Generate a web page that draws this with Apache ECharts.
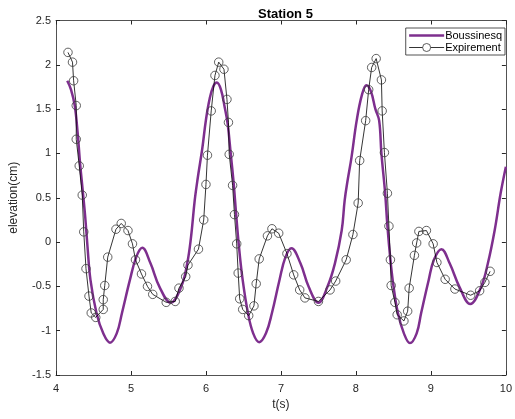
<!DOCTYPE html>
<html>
<head>
<meta charset="utf-8">
<script src="https://cdn.jsdelivr.net/npm/echarts@6/dist/echarts.min.js"></script>
<style>
  html, body { margin: 0; padding: 0; background: #fff; }
  #main { width: 515px; height: 419px; }
</style>
</head>
<body>
<div id="main"></div>
<script>
// Boussinesq model
var bousT = [4.15, 4.20, 4.25, 4.29, 4.32, 4.36, 4.39, 4.42, 4.46, 4.54, 4.63, 4.72, 4.81, 4.88, 4.985, 5.07, 5.15, 5.26, 5.38, 5.53,
  5.67, 5.75, 5.80, 5.85, 5.89, 5.95, 6.00, 6.05, 6.10, 6.145, 6.20, 6.25, 6.29, 6.33, 6.37, 6.40, 6.44, 6.49, 6.56, 6.63, 6.71,
  6.80, 6.88, 6.98, 7.06, 7.14, 7.26, 7.37, 7.50, 7.62, 7.72, 7.81, 7.85, 7.89, 7.94, 8.01, 8.08, 8.14, 8.20, 8.26, 8.31, 8.34,
  8.39, 8.42, 8.46, 8.50, 8.56, 8.64, 8.72, 8.81, 8.87, 8.97, 9.04, 9.14, 9.25, 9.38, 9.525, 9.67, 9.76, 9.85, 9.93, 10.0];
var bousY = [1.82, 1.72, 1.54, 1.22, 0.90, 0.55, 0.28, -0.05, -0.43, -0.80, -1.03, -1.135, -1.03, -0.80, -0.43, -0.17, -0.065, -0.24, -0.505, -0.685,
  -0.505, -0.24, 0.05, 0.47, 0.72, 1.05, 1.38, 1.62, 1.76, 1.80, 1.72, 1.52, 1.33, 1.00, 0.66, 0.34, -0.05, -0.43, -0.80, -1.03, -1.13,
  -1.03, -0.80, -0.43, -0.17, -0.07, -0.24, -0.505, -0.685, -0.505, -0.24, 0.13, 0.47, 0.70, 0.95, 1.37, 1.66, 1.77, 1.70, 1.50, 1.37, 1.00,
  0.55, 0.18, -0.20, -0.49, -0.80, -1.03, -1.14, -1.03, -0.80, -0.43, -0.20, -0.08, -0.24, -0.505, -0.70, -0.505, -0.24, 0.13, 0.55, 0.85];

// Experiment (markers)
var expT = [4.16, 4.22, 4.235, 4.27, 4.27, 4.31, 4.35, 4.37, 4.40, 4.44, 4.47, 4.53, 4.63, 4.63, 4.65, 4.69, 4.80, 4.87, 4.96, 5.02,
  5.06, 5.14, 5.22, 5.29, 5.47, 5.59, 5.64, 5.73, 5.76, 5.90, 5.97, 6.00, 6.02, 6.07, 6.12, 6.17, 6.24, 6.28, 6.30, 6.31,
  6.355, 6.38, 6.41, 6.43, 6.45, 6.49, 6.57, 6.64, 6.67, 6.71, 6.82, 6.88, 6.97, 7.08, 7.17, 7.25, 7.32, 7.50, 7.655, 7.73,
  7.87, 7.96, 8.03, 8.05, 8.13, 8.17, 8.21, 8.27, 8.34, 8.35, 8.38, 8.42, 8.44, 8.46, 8.47, 8.52, 8.55, 8.64, 8.69, 8.71,
  8.78, 8.81, 8.84, 8.94, 9.03, 9.08, 9.19, 9.32, 9.53, 9.65, 9.72, 9.79];
var expY = [2.14, 2.03, 1.82, 1.54, 1.16, 0.86, 0.53, 0.115, -0.30, -0.61, -0.80, -0.85, -0.76, -0.65, -0.49, -0.17, 0.145, 0.21, 0.13, -0.02,
  -0.20, -0.36, -0.50, -0.59, -0.68, -0.67, -0.52, -0.39, -0.26, -0.08, 0.25, 0.65, 0.98, 1.48, 1.88, 2.03, 1.95, 1.61, 1.35, 0.99,
  0.64, 0.31, -0.02, -0.35, -0.64, -0.76, -0.83, -0.72, -0.47, -0.19, 0.07, 0.15, 0.10, -0.13, -0.37, -0.54, -0.63, -0.67, -0.54, -0.44,
  -0.20, 0.085, 0.44, 0.92, 1.37, 1.72, 1.97, 2.07, 1.83, 1.48, 1.01, 0.55, 0.18, -0.20, -0.49, -0.68, -0.82, -0.89, -0.78, -0.52,
  -0.15, -0.01, 0.12, 0.13, -0.02, -0.23, -0.42, -0.53, -0.60, -0.55, -0.455, -0.33];

function pairs(xs, ys) {
  var out = [];
  for (var i = 0; i < xs.length; i++) out.push([xs[i], ys[i]]);
  return out;
}

var axisColor = '#262626';
var font = 'Liberation Sans, Arial, Helvetica, sans-serif';

var myChart = echarts.init(document.getElementById('main'));
var option = {
  animation: false,
  title: {
    text: 'Station 5',
    left: 253,
    top: 3,
    textStyle: { fontSize: 13, fontWeight: 'bold', color: '#000', fontFamily: font }
  },
  legend: {
    orient: 'vertical',
    right: 10,
    top: 28,
    backgroundColor: '#fff',
    borderColor: axisColor,
    borderWidth: 0.8,
    borderRadius: 0,
    padding: [2, 3, 2, 3],
    itemGap: 1,
    itemWidth: 35,
    itemHeight: 10,
    textStyle: { fontSize: 11, color: '#000', fontFamily: font, padding: [0, 0, 0, -4] },
    data: [
      { name: 'Boussinesq', icon: 'path://M0,0 L35,0 L35,2.5 L0,2.5 Z', itemStyle: { color: '#7E2F8E' } },
      { name: 'Expirement', lineStyle: { width: 0.8, color: '#000' },
        itemStyle: { color: '#fff', borderColor: '#333', borderWidth: 0.8 } }
    ]
  },
  grid: { left: 56, right: 7.5, top: 20.5, bottom: 44 },
  xAxis: [{
    type: 'value',
    min: 4, max: 10, interval: 1,
    name: 't(s)',
    nameLocation: 'middle',
    nameGap: 23,
    nameTextStyle: { fontSize: 12, color: axisColor, fontFamily: font },
    axisLine: { onZero: false, lineStyle: { color: axisColor, width: 0.8 } },
    axisTick: { inside: true, length: 4, lineStyle: { color: axisColor } },
    axisLabel: { fontSize: 11, color: axisColor, fontFamily: font, margin: 8 },
    splitLine: { show: false }
  }, {
    type: 'value', position: 'top',
    min: 4, max: 10, interval: 1,
    axisLine: { onZero: false, lineStyle: { color: axisColor, width: 0.8 } },
    axisTick: { inside: true, length: 4, lineStyle: { color: axisColor } },
    axisLabel: { show: false },
    splitLine: { show: false }
  }],
  yAxis: [{
    type: 'value',
    min: -1.5, max: 2.5, interval: 0.5,
    name: 'elevation(cm)',
    nameLocation: 'middle',
    nameGap: 36,
    nameTextStyle: { fontSize: 12, color: axisColor, fontFamily: font },
    axisLine: { show: true, onZero: false, lineStyle: { color: axisColor, width: 0.8 } },
    axisTick: { show: true, inside: true, length: 4, lineStyle: { color: axisColor } },
    axisLabel: { fontSize: 11, color: axisColor, fontFamily: font, margin: 5 },
    splitLine: { show: false }
  }, {
    type: 'value', position: 'right',
    min: -1.5, max: 2.5, interval: 0.5,
    axisLine: { show: true, onZero: false, lineStyle: { color: axisColor, width: 0.8 } },
    axisTick: { show: true, inside: true, length: 4, lineStyle: { color: axisColor } },
    axisLabel: { show: false },
    splitLine: { show: false }
  }],
  series: [
    {
      name: 'Boussinesq',
      type: 'line',
      data: pairs(bousT, bousY),
      smooth: 0.4,
      showSymbol: false,
      symbol: 'none',
      lineStyle: { color: '#7E2F8E', width: 2.5 },
      itemStyle: { color: '#7E2F8E' },
      z: 2
    },
    {
      name: 'Expirement',
      type: 'line',
      data: pairs(expT, expY),
      symbol: 'circle',
      symbolSize: 8.5,
      showAllSymbol: true,
      lineStyle: { color: '#000', width: 0.8 },
      itemStyle: { color: 'rgba(255,255,255,0)', borderColor: '#3a3a3a', borderWidth: 0.8 },
      z: 3
    }
  ]
};
myChart.setOption(option);
</script>
</body>
</html>
